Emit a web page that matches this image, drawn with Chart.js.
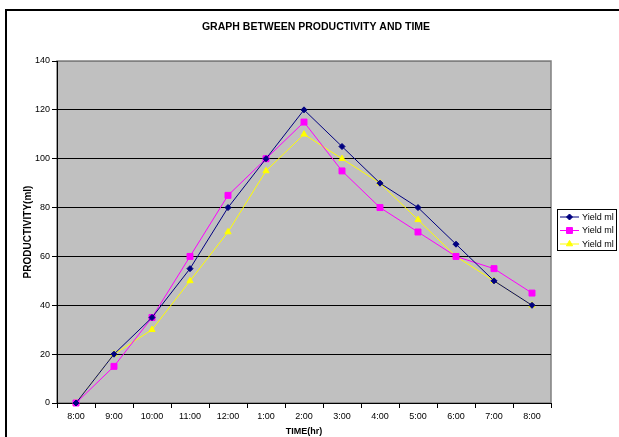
<!DOCTYPE html>
<html>
<head>
<meta charset="utf-8">
<script src="https://cdn.jsdelivr.net/npm/chart.js@4/dist/chart.umd.min.js"></script>
<style>
  html, body { margin: 0; padding: 0; background: #fff; }
  canvas { display: block; }
</style>
</head>
<body>
<canvas id="c" width="619" height="437"></canvas>
<script>
// Hourly time slots
const times = ['8:00', '9:00', '10:00', '11:00', '12:00', '1:00', '2:00', '3:00', '4:00', '5:00', '6:00', '7:00', '8:00'];

// Yield per hour (ml) for the three runs
const yieldRun1 = [0, 20, 35, 55, 80, 100, 120, 105, 90, 80, 65, 50, 40];
const yieldRun2 = [0, 15, 35, 60, 85, 100, 115, 95, 80, 70, 60, 55, 45];
const yieldRun3 = [0, 20, 30, 50, 70, 95, 110, 100, 90, 75, 60, 50, 40];

const seriesNames = ['Yield ml', 'Yield ml', 'Yield ml'];
const chartTitle = 'GRAPH BETWEEN PRODUCTIVITY AND TIME';
const xTitle = 'TIME(hr)';
const yTitle = 'PRODUCTIVITY(ml)';
const yTicks = { min: 0, max: 140, step: 20 };

const FONT = 'Arial, "Liberation Sans", sans-serif';

// Draws a marker shape centred on (x, y)
function marker(ctx, style, x, y, r, color) {
  ctx.save();
  ctx.fillStyle = color;
  ctx.strokeStyle = color;
  ctx.lineWidth = 1;
  ctx.beginPath();
  if (style === 'rectRot') {
    ctx.moveTo(x, y - r); ctx.lineTo(x + r, y); ctx.lineTo(x, y + r); ctx.lineTo(x - r, y);
  } else if (style === 'rect') {
    const s = r * Math.SQRT1_2;
    ctx.rect(x - s, y - s, 2 * s, 2 * s);
  } else {
    ctx.moveTo(x, y - r); ctx.lineTo(x + r * 0.866, y + r * 0.5); ctx.lineTo(x - r * 0.866, y + r * 0.5);
  }
  ctx.closePath();
  ctx.fill();
  ctx.stroke();
  ctx.restore();
}

// Page frame, plot background, plot border, heading and legend
const backdrop = {
  id: 'backdrop',
  beforeDraw(chart) {
    const { ctx, chartArea: a } = chart;
    ctx.save();
    ctx.fillStyle = '#fff';
    ctx.fillRect(0, 0, chart.width, chart.height);
    ctx.fillStyle = '#000';
    ctx.fillRect(5, 9, 2, chart.height);
    ctx.fillRect(5, 9, chart.width, 2);
    ctx.fillStyle = '#C0C0C0';
    ctx.fillRect(a.left, a.top, a.right - a.left, a.bottom - a.top);
    ctx.strokeStyle = '#808080';
    ctx.lineWidth = 1.5;
    ctx.strokeRect(a.left, a.top, a.right - a.left, a.bottom - a.top);
    ctx.restore();
  },
  afterDraw(chart) {
    const { ctx } = chart;
    ctx.save();
    // chart heading
    ctx.fillStyle = '#000';
    ctx.font = 'bold 10.5px ' + FONT;
    ctx.textAlign = 'center';
    ctx.textBaseline = 'middle';
    ctx.fillText(chartTitle, 316, 27);

    // legend box
    const bx = 557, by = 209, bw = 59, bh = 41;
    ctx.fillStyle = '#fff';
    ctx.fillRect(bx, by, bw, bh);
    ctx.strokeStyle = '#000';
    ctx.lineWidth = 1;
    ctx.strokeRect(bx + 0.5, by + 0.5, bw, bh);
    ctx.font = '9px ' + FONT;
    ctx.textAlign = 'left';
    chart.data.datasets.forEach((ds, i) => {
      const y = by + 8 + i * 13.5;
      ctx.strokeStyle = ds.borderColor;
      ctx.lineWidth = 1;
      ctx.beginPath();
      ctx.moveTo(bx + 3, y);
      ctx.lineTo(bx + 22, y);
      ctx.stroke();
      marker(ctx, ds.pointStyle, bx + 12.5, y, ds.pointRadius, ds.pointBackgroundColor);
      ctx.fillStyle = '#000';
      ctx.fillText(ds.label, bx + 25, y + 0.5);
    });
    ctx.restore();
  }
};

const colors = ['#000080', '#FF00FF', '#FFFF00'];
const styles = ['rectRot', 'rect', 'triangle'];
const radii = [3, 4.2, 3.6];
const values = [yieldRun1, yieldRun2, yieldRun3];

new Chart(document.getElementById('c'), {
  type: 'line',
  data: {
    labels: times,
    datasets: values.map((v, i) => ({
      label: seriesNames[i],
      data: v,
      borderColor: colors[i],
      backgroundColor: colors[i],
      pointBackgroundColor: colors[i],
      pointBorderColor: colors[i],
      pointStyle: styles[i],
      pointRadius: radii[i],
      pointBorderWidth: 1,
      borderWidth: 1,
      tension: 0,
      fill: false,
      clip: false
    }))
  },
  options: {
    responsive: false,
    animation: false,
    devicePixelRatio: 1,
    layout: { padding: { left: 0, top: 61, right: 68, bottom: 0 } },
    plugins: {
      legend: { display: false },
      title: { display: false },
      tooltip: { enabled: false }
    },
    scales: {
      x: {
        type: 'category',
        offset: true,
        afterFit(s) { s.height = 34; },
        grid: { drawOnChartArea: false, drawTicks: true, tickLength: 5, tickColor: '#000', offset: true },
        border: { display: true, color: '#000', width: 1 },
        ticks: { color: '#000', font: { family: FONT, size: 9 }, padding: 3, maxRotation: 0, autoSkip: false },
        title: { display: true, text: xTitle, color: '#000', font: { family: FONT, size: 9, weight: 'bold' }, padding: { top: 0, bottom: 0 } }
      },
      y: {
        min: yTicks.min,
        max: yTicks.max,
        afterFit(s) { s.width = 57; },
        grid: {
          color: (c) => (c.tick && c.tick.value === yTicks.max ? '#808080' : '#000'),
          lineWidth: 1,
          drawTicks: true,
          tickLength: 5,
          tickColor: '#000'
        },
        border: { display: true, color: '#000', width: 1 },
        ticks: { stepSize: yTicks.step, color: '#000', font: { family: FONT, size: 9 }, padding: 2 },
        title: { display: true, text: yTitle, color: '#000', font: { family: FONT, size: 10, weight: 'bold' }, padding: { top: 22, bottom: 0 } }
      }
    }
  },
  plugins: [backdrop]
});
</script>
</body>
</html>
